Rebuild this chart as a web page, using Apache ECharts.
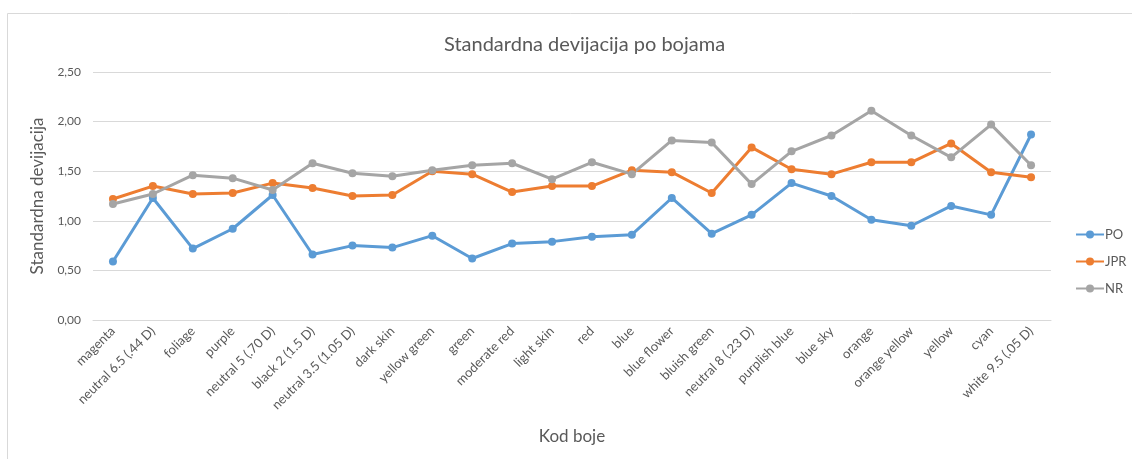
<!DOCTYPE html>
<html>
<head>
<meta charset="utf-8">
<script src="https://cdn.jsdelivr.net/npm/echarts@6/dist/echarts.min.js"></script>
<style>
  html, body { margin: 0; padding: 0; background: #fff; }
  #chart { width: 1132px; height: 459px; }
</style>
</head>
<body>
<div id="chart"></div>
<script>
// Colour codes along the x axis
const categories = [
  'magenta', 'neutral 6.5 (.44 D)', 'foliage', 'purple', 'neutral 5 (.70 D)',
  'black 2 (1.5 D)', 'neutral 3.5 (1.05 D)', 'dark skin', 'yellow green', 'green',
  'moderate red', 'light skin', 'red', 'blue', 'blue flower', 'bluish green',
  'neutral 8 (.23 D)', 'purplish blue', 'blue sky', 'orange', 'orange yellow',
  'yellow', 'cyan', 'white 9.5 (.05 D)'
];

// Standard deviation per colour for each group
const seriesPO = [0.59, 1.23, 0.72, 0.92, 1.26, 0.66, 0.75, 0.73, 0.85, 0.62, 0.77, 0.79,
                  0.84, 0.86, 1.23, 0.87, 1.06, 1.38, 1.25, 1.01, 0.95, 1.15, 1.06, 1.87];
const seriesJPR = [1.22, 1.35, 1.27, 1.28, 1.38, 1.33, 1.25, 1.26, 1.50, 1.47, 1.29, 1.35,
                   1.35, 1.51, 1.49, 1.28, 1.74, 1.52, 1.47, 1.59, 1.59, 1.78, 1.49, 1.44];
const seriesNR = [1.17, 1.27, 1.46, 1.43, 1.31, 1.58, 1.48, 1.45, 1.51, 1.56, 1.58, 1.42,
                  1.59, 1.47, 1.81, 1.79, 1.37, 1.70, 1.86, 2.11, 1.86, 1.64, 1.97, 1.56];

const seriesNames = ['PO', 'JPR', 'NR'];
const seriesColors = ['#5B9BD5', '#ED7D31', '#A5A5A5'];

const textColor = '#595959';
const gridColor = '#D9D9D9';
const fontFamily = 'Lato, "Open Sans", sans-serif';

const chart = echarts.init(document.getElementById('chart'), null, { renderer: 'canvas' });

const makeSeries = (name, data, color) => ({
  name: name,
  type: 'line',
  data: data,
  symbol: 'circle',
  symbolSize: 8,
  lineStyle: { width: 3, color: color },
  itemStyle: { color: color },
  emphasis: { disabled: true },
  animation: false
});

chart.setOption({
  animation: false,
  textStyle: { fontFamily: fontFamily },
  graphic: [{
    type: 'rect',
    shape: { x: 7.5, y: 13.5, width: 1140, height: 460 },
    style: { fill: 'none', stroke: gridColor, lineWidth: 1 },
    silent: true,
    z: -1
  }],
  title: {
    text: 'Standardna devijacija po bojama',
    left: 439,
    top: 30,
    textStyle: { color: textColor, fontSize: 20, fontWeight: 'normal', fontFamily: fontFamily }
  },
  legend: {
    orient: 'vertical',
    left: 1070,
    top: 223,
    itemWidth: 28,
    itemHeight: 10,
    itemGap: 14,
    data: seriesNames,
    textStyle: { color: textColor, fontSize: 13, fontFamily: fontFamily, padding: [0, 0, 0, -4] }
  },
  grid: {
    left: 93,
    right: 81,
    top: 72,
    bottom: 139,
    containLabel: false
  },
  xAxis: {
    type: 'category',
    data: categories,
    boundaryGap: true,
    name: 'Kod boje',
    nameLocation: 'middle',
    nameGap: 108,
    nameTextStyle: { color: textColor, fontSize: 17, fontFamily: fontFamily },
    axisLine: { show: true, lineStyle: { color: gridColor, width: 1 } },
    axisTick: { show: false },
    axisLabel: {
      rotate: 45,
      interval: 0,
      margin: 9,
      color: textColor,
      fontSize: 13,
      fontFamily: fontFamily
    }
  },
  yAxis: {
    type: 'value',
    min: 0,
    max: 2.5,
    interval: 0.5,
    name: 'Standardna devijacija',
    nameLocation: 'middle',
    nameGap: 42,
    nameTextStyle: { color: textColor, fontSize: 17, fontFamily: fontFamily },
    axisLine: { show: false },
    axisTick: { show: false },
    splitLine: { lineStyle: { color: gridColor, width: 1 } },
    axisLabel: {
      color: textColor,
      fontSize: 12,
      fontFamily: fontFamily,
      margin: 12,
      formatter: v => v.toFixed(2).replace('.', ',')
    }
  },
  series: [
    makeSeries(seriesNames[0], seriesPO, seriesColors[0]),
    makeSeries(seriesNames[1], seriesJPR, seriesColors[1]),
    makeSeries(seriesNames[2], seriesNR, seriesColors[2])
  ]
});
</script>
</body>
</html>
